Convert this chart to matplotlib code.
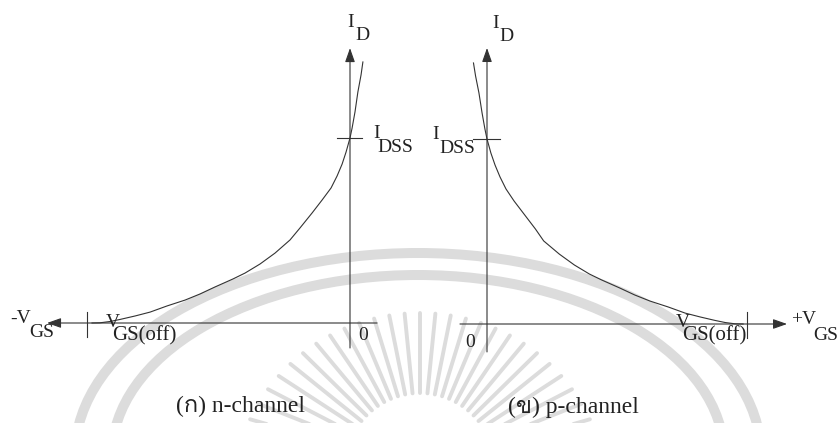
import numpy as np
import matplotlib
matplotlib.use("Agg")
import matplotlib.pyplot as plt
from matplotlib import font_manager, ft2font
from matplotlib.patches import Ellipse

# JFET transfer curves, V_GS as a fraction of |V_GS(off)|, I_D as a fraction of I_DSS
n_vgs = [0.049, 0.042, 0.030, 0.019, 0.008, 0.0, -0.015, -0.030, -0.049, -0.072,
         -0.106, -0.144, -0.190, -0.228, -0.285, -0.342, -0.399, -0.445, -0.513,
         -0.570, -0.627, -0.696, -0.760, -0.817, -0.875, -0.913, -0.951, -0.981]
n_id = [1.411, 1.341, 1.249, 1.141, 1.054, 1.0, 0.924, 0.859, 0.795, 0.730,
        0.665, 0.595, 0.514, 0.449, 0.378, 0.319, 0.270, 0.238, 0.195,
        0.157, 0.124, 0.092, 0.059, 0.038, 0.019, 0.008, 0.001, 0.0]
p_vgs = [-0.052, -0.044, -0.031, -0.019, -0.008, 0.0, 0.015, 0.031, 0.050, 0.073,
         0.104, 0.142, 0.186, 0.218, 0.278, 0.336, 0.394, 0.441, 0.510,
         0.568, 0.627, 0.697, 0.762, 0.820, 0.878, 0.916, 0.954, 0.985]
p_id = [1.411, 1.341, 1.249, 1.141, 1.054, 1.0, 0.924, 0.859, 0.795, 0.730,
        0.665, 0.595, 0.514, 0.449, 0.378, 0.319, 0.270, 0.238, 0.195,
        0.157, 0.124, 0.092, 0.059, 0.038, 0.019, 0.008, 0.001, 0.0]

captions = ["(ก) n-channel", "(ข) p-channel"]

INK = "#222222"
LINE = "#333333"
WM = "#dcdcdc"


def find_thai_family():
    for f in font_manager.fontManager.ttflist:
        try:
            if 0x0E01 in ft2font.FT2Font(f.fname).get_charmap():
                return f.name
        except Exception:
            continue
    return None


thai = find_thai_family()
plt.rcParams["font.family"] = ["Liberation Serif"] + ([thai] if thai else []) + ["DejaVu Sans"]

W, H = 840, 423
fig = plt.figure(figsize=(W / 100, H / 100), dpi=100)

# faint seal in the background
bg = fig.add_axes([0, 0, 1, 1], zorder=0)
bg.set_xlim(0, W)
bg.set_ylim(H, 0)
bg.axis("off")
for w, h in [(686, 404), (612, 360)]:
    bg.add_patch(Ellipse((418, 455), w, h, fill=False, lw=7.2, ec=WM))
cx, cy = 420, 468
for a in np.radians(np.linspace(16, 164, 27)):
    r1 = 155 + 30 * (1 - np.sin(a))
    bg.plot([cx + 75 * np.cos(a), cx + r1 * np.cos(a)],
            [cy - 75 * np.sin(a), cy - r1 * np.sin(a)],
            color=WM, lw=2.8, solid_capstyle="round")


def panel(left_px, x0_px, y0_px, sx):
    ax = fig.add_axes([left_px / W, 0, 0.5, 1], zorder=1)
    ax.patch.set_alpha(0)
    ax.axis("off")
    ax.set_xlim((left_px - x0_px) / sx, (left_px + 420 - x0_px) / sx)
    ax.set_ylim((y0_px - H) / 185, y0_px / 185)
    return ax


def arrow(ax, start, tip):
    ax.annotate("", xy=tip, xytext=start,
                arrowprops=dict(arrowstyle="-|>,head_length=0.85,head_width=0.3",
                                mutation_scale=10, lw=0.8, color=LINE,
                                shrinkA=0, shrinkB=0))


def label(ax, x, y, main, sub, dx, dy, size=14, sub_size=None):
    ax.text(x, y, main, fontsize=size, color=INK, va="baseline", ha="left")
    ax.annotate(sub, (x, y), xytext=(dx, dy), textcoords="offset points",
                fontsize=sub_size or size, color=INK, va="baseline", ha="left")


# n-channel
ax1 = panel(0, 350, 323, 263)
arrow(ax1, (0.103, 0), (-1.152, 0))
arrow(ax1, (0, -0.135), (0, 1.486))
ax1.plot([-1, -1], [0.059, -0.076], color=LINE, lw=0.8)
ax1.plot([-0.049, 0.046], [1, 1], color=LINE, lw=0.8)
ax1.plot(n_vgs, n_id, color=LINE, lw=0.8)
label(ax1, -0.011, 1.60, "I", "D", 6, -9.5)
label(ax1, 0.087, 1.0, "I", "DSS", 3, -10)
label(ax1, -1.29, 0.0, "-V", "GS", 13, -10)
label(ax1, -0.93, -0.022, "V", "GS(off)", 4.5, -10, sub_size=15)
ax1.text(0.03, -0.092, "0", fontsize=14, color=INK, va="baseline")
ax1.text(-0.66, -0.48, captions[0], fontsize=17, color=INK, va="baseline")

# p-channel
ax2 = panel(420, 487, 324, 260)
arrow(ax2, (-0.104, 0), (1.154, 0))
arrow(ax2, (0, -0.151), (0, 1.492))
ax2.plot([1, 1], [0.065, -0.076], color=LINE, lw=0.8)
ax2.plot([-0.054, 0.05], [1, 1], color=LINE, lw=0.8)
ax2.plot(p_vgs, p_id, color=LINE, lw=0.8)
label(ax2, 0.02, 1.60, "I", "D", 5, -9.5)
label(ax2, -0.21, 1.0, "I", "DSS", 5, -10)
label(ax2, 1.17, 0.0, "+V", "GS", 16, -11.5)
label(ax2, 0.725, -0.016, "V", "GS(off)", 4.5, -10, sub_size=15)
ax2.text(-0.085, -0.125, "0", fontsize=14, color=INK, va="baseline")
ax2.text(0.08, -0.48, captions[1], fontsize=17, color=INK, va="baseline")

fig.savefig("out.png", dpi=100)
